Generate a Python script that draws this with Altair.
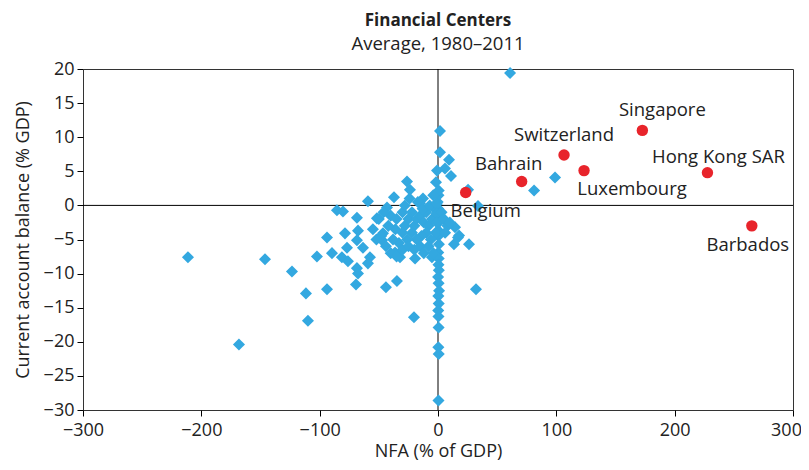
import altair as alt
import pandas as pd

# Other economies (blue diamonds): NFA (% of GDP), current account (% GDP)
other_nfa = [60.9, 1.7, 1.7, 9.3, 5.9, 11.0, -0.8, -1.7, -26.2, -23.7, 25.4, 33.8, 98.9, 81.2,
             -59.2, -37.2, -85.4, -80.3, -68.5, -51.6, -43.1, -12.7, -15.2, -93.8, -78.6, -67.6,
             -68.5, -76.9, -63.4, -57.5, -89.6, -102.3, -123.4, -146.2, -211.3, 14.4, 17.8, 26.2,
             13.5, -5.1, -19.4, -32.1, -36.3, -46.5, -47.3, -111.6, -93.8, -109.9, -168.2, -81.2,
             -76.1, -68.5, -67.6, -69.3, -44.0, -34.7, -59.2, -20.3, 32.1, 16.9,
             0.5, 0.3, 0.8, 0.2, 0.6, 0.4, 0.7, 0.1, 0.5, 0.9, 0.3, 0.6, 0.2, 0.4, 0.5, 0.3, 0.6, 0.4,
             0.2, 0.5, 0.7, -0.3, 0.4, 0.6,
             -40, -35, -30, -28, -25, -22, -20, -18, -15, -12, -10, -8, -5, -3, -2, -6, -10, -14,
             -18, -22, -26, -30, -33, -36, -38, -42, -44, -40, -35, -30, -25, -20, -15, -12, -8,
             -4, -28, -24, -17, -13, -7, -4, -1, -1, -1, 3, 5, 8, 10, 6, -48, -52, -55, -50, -46]
other_ca = [19.4, 10.9, 7.8, 6.7, 5.4, 4.3, 5.1, 3.4, 3.5, 2.3, 2.3, -0.1, 4.1, 2.2,
            0.6, 1.2, -0.7, -0.9, -1.8, -1.9, -0.3, 1.0, 0.3, -4.7, -4.1, -3.7,
            -5.1, -6.2, -6.2, -7.6, -7.0, -7.5, -9.7, -7.9, -7.6, -3.2, -4.4, -5.7,
            -5.7, -7.6, -7.8, -7.6, -6.9, -4.1, -5.1, -12.9, -12.3, -16.9, -20.4, -7.6,
            -8.2, -9.2, -10.0, -11.6, -12.0, -11.1, -8.5, -16.4, -12.3, -4.7,
            -3.7, -4.5, -5.7, -6.9, -7.8, -8.7, -9.5, -10.5, -11.4, -12.5, -13.3, -14.4, -15.4,
            -16.3, -17.9, -20.8, -21.8, -28.6, -0.5, -1.5, -2.5, 0.5, 1.5, 2.2,
            -1.5, -2, -1, -3, -2, -1, -3, -2, -1.5, -2.5, -1, -3, -2, -0.5, -4, -5, -4, -4.5,
            -5, -4, -5, -4, -5.5, -3.5, -5, -3, -6, -7, -7.5, -6.5, -6, -6.5, -6, -7, -6,
            -7, 0, 1, 0.5, -0.5, 0, 1.5, 0.2, -1.2, -2.5, -1, -2, -3, -2.5, -4, -4.5, -5, -3.5,
            -2, -1]

# Financial centers (red circles)
centers = ["Belgium", "Bahrain", "Switzerland", "Luxembourg", "Singapore", "Hong Kong SAR", "Barbados"]
centers_nfa = [23.4, 70.7, 106.5, 123.4, 172.7, 227.7, 265.2]
centers_ca = [1.9, 3.5, 7.4, 5.1, 11.0, 4.8, -3.0]

x_ticks = [-300, -200, -100, 0, 100, 200, 300]
y_ticks = [20, 15, 10, 5, 0, -5, -10, -15, -20, -25, -30]

others = pd.DataFrame({"nfa": other_nfa, "ca": other_ca})
fc = pd.DataFrame({"name": centers, "nfa": centers_nfa, "ca": centers_ca})

FONT = "Open Sans"
TXT = "#222"
xs = alt.Scale(domain=[-300, 300], nice=False, zero=False)
ys = alt.Scale(domain=[-30, 20], nice=False, zero=False)

common_axis = dict(grid=False, domain=False, tickColor="#000", tickSize=6,
                   labelFontSize=18, titleFontSize=18, labelColor=TXT, titleColor=TXT,
                   labelFont=FONT, titleFont=FONT, titleFontWeight="normal",
                   labelFlush=False, labelOverlap=False)

x_axis = alt.Axis(values=x_ticks, titlePadding=3, labelPadding=5,
                  labelOffset=alt.ExprRef(expr="datum.value == 300 ? -7 : 0"), **common_axis)
y_axis = alt.Axis(values=y_ticks, titlePadding=11, labelPadding=3, **common_axis)
X_TITLE = "NFA (% of GDP)"
Y_TITLE = "Current account balance (% GDP)"

zero_df = pd.DataFrame({"v": [0]})
hline = alt.Chart(zero_df).mark_rule(color="#000", strokeWidth=1).encode(
    y=alt.Y("v:Q", scale=ys, axis=y_axis, title=Y_TITLE))
vline = alt.Chart(zero_df).mark_rule(color="#000", strokeWidth=1).encode(
    x=alt.X("v:Q", scale=xs, axis=x_axis, title=X_TITLE))

blue = alt.Chart(others).mark_point(shape="diamond", filled=True, color="#33A8E0", opacity=1,
                                    size=145).encode(
    x=alt.X("nfa:Q", scale=xs, axis=x_axis, title=X_TITLE),
    y=alt.Y("ca:Q", scale=ys, axis=y_axis, title=Y_TITLE))
red = alt.Chart(fc).mark_point(shape="circle", filled=True, color="#E8242B", opacity=1,
                               size=130).encode(
    x=alt.X("nfa:Q", scale=xs, axis=x_axis, title=X_TITLE),
    y=alt.Y("ca:Q", scale=ys, axis=y_axis, title=Y_TITLE))

offsets = {
    "Singapore": (20, -20),
    "Switzerland": (0, -20),
    "Bahrain": (-13, -18),
    "Luxembourg": (48, 18),
    "Hong Kong SAR": (11, -16),
    "Belgium": (20, 19),
    "Barbados": (-4, 19),
}
labels = []
for name, (dx, dy) in offsets.items():
    labels.append(
        alt.Chart(fc[fc["name"] == name]).mark_text(dx=dx, dy=dy, fontSize=18.5, font=FONT,
                                                    color=TXT, align="center", baseline="middle")
        .encode(x=alt.X("nfa:Q", scale=xs, axis=x_axis, title=X_TITLE),
                y=alt.Y("ca:Q", scale=ys, axis=y_axis, title=Y_TITLE), text="name:N")
    )

chart = alt.layer(hline, vline, blue, red, *labels).properties(
    width=710, height=341,
    title=alt.TitleParams("Financial Centers", subtitle="Average, 1980\u20132011",
                          font=FONT, fontSize=17, fontWeight="bold", color=TXT,
                          subtitleFont=FONT, subtitleFontSize=18.5, subtitleColor=TXT,
                          subtitlePadding=5, offset=6, anchor="middle"),
    autosize=alt.AutoSizeParams(type="none"),
    padding={"left": 75, "top": 61, "right": 8, "bottom": 52},
).configure_view(stroke="#333", strokeWidth=1)

chart.save("out.html", embed_options={"renderer": "svg", "actions": False})
